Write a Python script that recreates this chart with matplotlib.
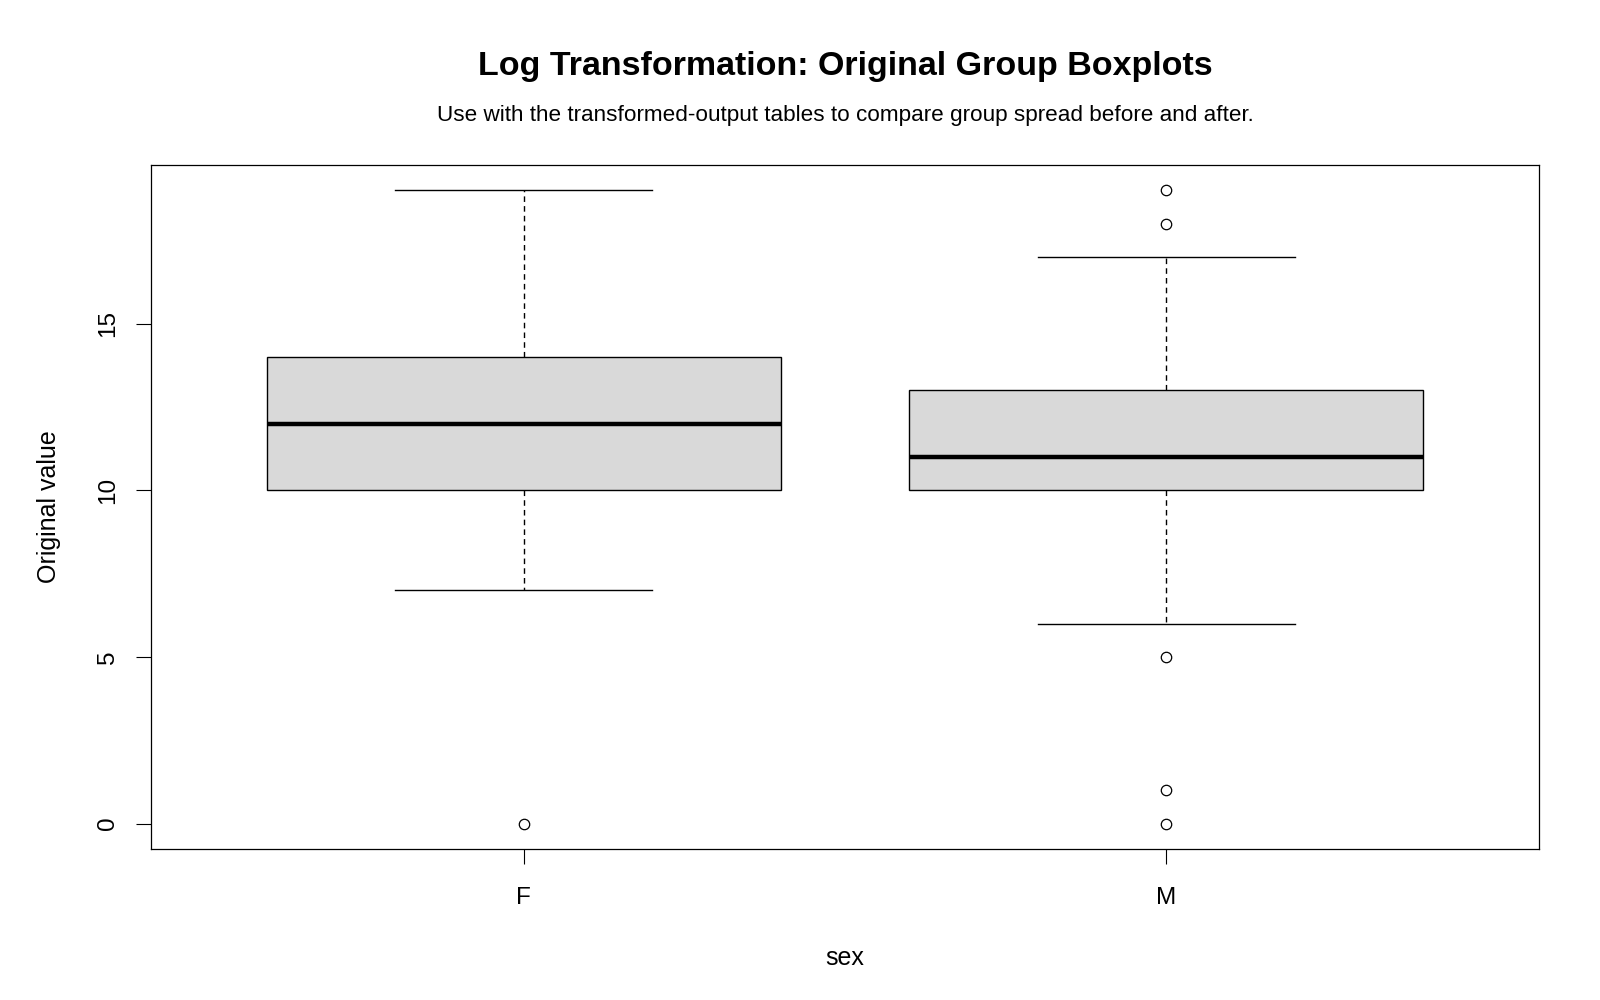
import matplotlib.pyplot as plt

plt.rcParams['font.family'] = ['Liberation Sans', 'DejaVu Sans']

groups = ['F', 'M']
q1 = [10, 10]
med = [12, 11]
q3 = [14, 13]
whislo = [7, 6]
whishi = [19, 17]
fliers = [[0], [19, 18, 5, 1, 0]]

stats = []
for i in range(len(groups)):
    stats.append(dict(label=groups[i], q1=q1[i], med=med[i], q3=q3[i],
                      whislo=whislo[i], whishi=whishi[i], fliers=fliers[i]))

fig = plt.figure(figsize=(16, 10), dpi=100)
ax = fig.add_axes([151/1600, 151/1000, 1388/1600, 684/1000])

ax.bxp(stats, positions=[1, 2], widths=0.8, patch_artist=True,
       boxprops=dict(facecolor='#d9d9d9', edgecolor='black', lw=1.0),
       medianprops=dict(color='black', lw=3.2, solid_capstyle='butt'),
       whiskerprops=dict(color='black', lw=1.0, linestyle=(0, (4, 3))),
       capprops=dict(color='black', lw=1.0),
       capwidths=0.4,
       flierprops=dict(marker='o', markerfacecolor='none', markeredgecolor='black',
                       markersize=7.5, markeredgewidth=0.9))

ax.set_xlim(0.42, 2.58)
ax.set_ylim(-0.76, 19.76)
ax.set_yticks([0, 5, 10, 15])
ax.set_yticklabels(['0', '5', '10', '15'], rotation=90, va='center')
ax.tick_params(axis='both', length=11, width=0.8, labelsize=17.5)
ax.tick_params(axis='x', pad=16)
ax.tick_params(axis='y', pad=12)
for s in ax.spines.values():
    s.set_linewidth(0.9)

ax.set_xlabel('sex', fontsize=18)
ax.xaxis.set_label_coords(0.5, -(958-849)/684)
ax.xaxis.label.set_va('center')
ax.set_ylabel('Original value', fontsize=18)
ax.yaxis.set_label_coords(-(151-49)/1388, 0.5)
ax.yaxis.label.set_va('center')

cx = (151 + 1539) / 2 / 1600
fig.text(cx, 1-66/1000, 'Log Transformation: Original Group Boxplots',
         ha='center', va='center', fontsize=24.5, fontweight='bold')
fig.text(cx, 1-115/1000, 'Use with the transformed-output tables to compare group spread before and after.',
         ha='center', va='center', fontsize=16.2)

fig.savefig('out.png', dpi=100)
